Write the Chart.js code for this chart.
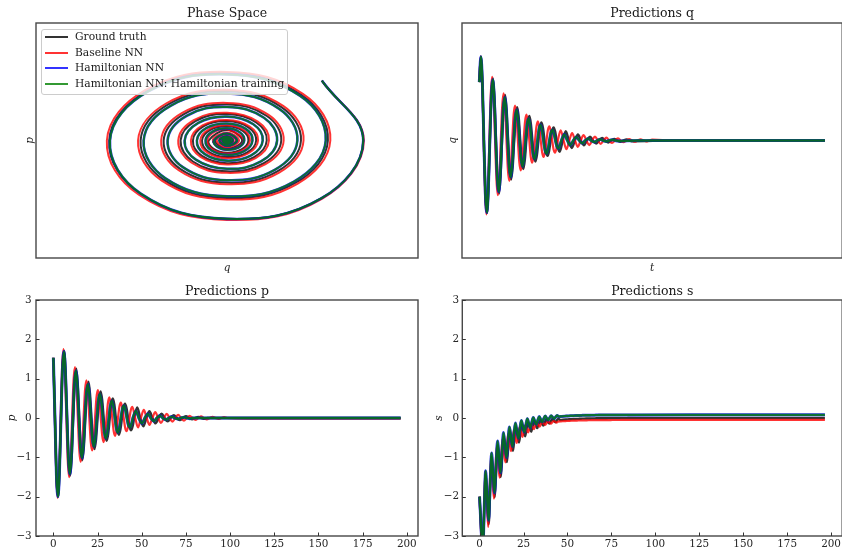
<!DOCTYPE html>
<html><head><meta charset="utf-8">
<script src="https://cdn.jsdelivr.net/npm/chart.js@4.4.1/dist/chart.umd.min.js"></script>
<style>
html,body{margin:0;padding:0;background:#fff;overflow:hidden;width:842px;height:547px;position:relative;}
canvas{position:absolute;}
#legend{position:absolute;left:41px;top:29px;width:247px;height:66px;box-sizing:border-box;border:1px solid #cccccc;border-radius:3px;background:rgba(255,255,255,0.8);font-family:'DejaVu Serif',serif;font-size:10.7px;color:#1a1a1a;}
.row{position:absolute;left:0;height:14px;line-height:14px;width:240px;}
.sw{position:absolute;left:3px;top:6px;width:23px;height:0;border-top:2px solid;}
.lbl{position:absolute;left:33px;top:0;white-space:nowrap;}
</style></head><body>
<canvas id="cPhase" width="421" height="280" style="left:0;top:0"></canvas>
<canvas id="cQ" width="422" height="280" style="left:421px;top:0"></canvas>
<canvas id="cP" width="421" height="267" style="left:0;top:280px"></canvas>
<canvas id="cS" width="422" height="267" style="left:421px;top:280px"></canvas>
<div id="legend"></div>
<script>
// ---------------- data ----------------
const seriesNames = ['Ground truth', 'Baseline NN', 'Hamiltonian NN', 'Hamiltonian NN: Hamiltonian training'];
const xTicksTime = [0, 25, 50, 75, 100, 125, 150, 175, 200];
const yTicks = [-3, -2, -1, 0, 1, 2, 3];

// Ground truth
const tBlack = [0,0.875,1.738,2.6,3.463,4.325,5.188,6.05,6.913,7.775,8.638,9.5,10.363,11.225,12.088,12.95,13.813,14.675,15.538,16.4,17.263,18.125,18.988,19.85,20.713,21.575,22.438,23.3,24.163,25.025,25.888,26.75,27.613,28.475,29.338,30.2,31.063,31.925,32.788,33.65,34.513,35.375,36.238,37.1,37.963,38.825,39.688,40.55,41.413,42.275,43.138,44.0,44.863,45.725,47.45,49.175,50.9,52.625,54.35,56.075,57.8,59.525,61.25,62.975,64.7,66.425,68.15,69.875,71.6,73.325,75.05,76.775,78.5,80.225,81.95,83.675,85.4,87.125,110,140,170,196.5];
const qBlack = [1.49,2.14,1.48,0,-1.36,-1.851,-1.259,0,1.165,1.585,1.078,0,-0.997,-1.357,-0.923,0,0.854,1.162,0.79,0,-0.731,-0.995,-0.676,0,0.626,0.852,0.579,0,-0.536,-0.729,-0.496,0,0.459,0.624,0.425,0,-0.393,-0.535,-0.364,0,0.336,0.458,0.311,0,-0.288,-0.392,-0.267,0,0.247,0.336,0.228,0,-0.211,-0.287,0,0.238,0,-0.19,0,0.152,0,-0.121,0,0.097,0,-0.078,0,0.062,0,-0.05,0,0.04,0,-0.032,0,0.025,0,-0.02,0,0,0,0];
const pBlack = [1.53,0,-1.48,-2.0,-1.36,0,1.259,1.712,1.165,0,-1.078,-1.466,-0.997,0,0.923,1.255,0.854,0,-0.79,-1.075,-0.731,0,0.676,0.92,0.626,0,-0.579,-0.788,-0.536,0,0.496,0.675,0.459,0,-0.425,-0.578,-0.393,0,0.364,0.495,0.336,0,-0.311,-0.424,-0.288,0,0.267,0.363,0.247,0,-0.228,-0.311,-0.211,0,0.266,0,-0.213,0,0.17,0,-0.136,0,0.108,0,-0.087,0,0.069,0,-0.055,0,0.044,0,-0.035,0,0.028,0,-0.023,0,0,0,0,0];
const sBlack = [-2.0,-2.88,-3.62,-2.459,-1.42,-2.102,-2.70,-1.795,-0.989,-1.535,-2.014,-1.313,-0.688,-1.122,-1.502,-0.96,-0.479,-0.822,-1.12,-0.703,-0.333,-0.601,-0.835,-0.515,-0.232,-0.441,-0.623,-0.378,-0.162,-0.324,-0.465,-0.278,-0.112,-0.237,-0.347,-0.204,-0.078,-0.175,-0.258,-0.15,-0.054,-0.129,-0.193,-0.111,-0.038,-0.094,-0.144,-0.081,-0.026,-0.07,-0.107,-0.06,-0.018,-0.051,-0.044,-0.038,-0.033,-0.028,-0.024,-0.021,-0.018,-0.015,-0.013,-0.011,-0.01,-0.008,-0.007,-0.006,-0.005,-0.004,-0.004,-0.003,-0.003,-0.002,-0.002,-0.002,-0.001,-0.001,0,0,0,0];

// Baseline NN
const tRed = [0,0.866,1.677,2.488,3.299,4.11,4.922,5.733,6.544,7.355,8.167,8.978,9.789,10.6,11.412,12.223,13.034,13.845,14.657,15.468,16.279,17.09,17.902,18.713,19.524,20.335,21.147,21.958,22.769,23.58,24.392,25.203,26.014,26.825,27.637,28.448,29.259,30.07,30.882,31.693,32.504,33.315,34.127,34.938,35.749,36.56,37.372,38.183,38.994,39.805,40.617,41.428,42.239,43.05,43.862,44.673,46.296,47.918,49.541,51.163,52.786,54.408,56.031,57.653,59.276,60.898,62.521,64.143,65.766,67.388,69.011,70.633,72.256,73.878,75.501,77.123,78.746,80.368,81.991,83.613,85.236,86.858,88.481,90.103,91.726,93.348,94.971,96.593,98.215,110,140,170,196.5];
const qRed = [1.49,2.15,1.49,0,-1.385,-1.887,-1.285,0,1.192,1.623,1.105,0,-1.025,-1.397,-0.951,0,0.882,1.202,0.819,0,-0.759,-1.034,-0.704,0,0.653,0.89,0.606,0,-0.562,-0.766,-0.522,0,0.484,0.659,0.449,0,-0.416,-0.567,-0.386,0,0.358,0.488,0.332,0,-0.308,-0.42,-0.286,0,0.265,0.361,0.246,0,-0.227,-0.308,-0.209,0,0.262,0,-0.223,0,0.189,0,-0.161,0,0.137,0,-0.116,0,0.099,0,-0.084,0,0.072,0,-0.061,0,0.052,0,-0.044,0,0.037,0,-0.032,0,0.027,0,-0.023,0,0.02,0,0,0,0];
const pRed = [1.53,0,-1.49,-2.03,-1.385,0,1.285,1.75,1.192,0,-1.105,-1.506,-1.025,0,0.951,1.296,0.882,0,-0.819,-1.115,-0.759,0,0.704,0.96,0.653,0,-0.606,-0.826,-0.562,0,0.522,0.71,0.484,0,-0.449,-0.611,-0.416,0,0.386,0.526,0.358,0,-0.332,-0.453,-0.308,0,0.286,0.389,0.265,0,-0.246,-0.334,-0.227,0,0.209,0.284,0,-0.242,0,0.205,0,-0.175,0,0.148,0,-0.126,0,0.107,0,-0.091,0,0.078,0,-0.066,0,0.056,0,-0.048,0,0.041,0,-0.034,0,0.029,0,-0.025,0,0.021,0,-0.015,-0.015,-0.015,-0.015];
const sRed = [-2.0,-2.877,-3.75,-2.468,-1.35,-2.117,-2.77,-1.818,-0.99,-1.562,-2.05,-1.343,-0.729,-1.156,-1.517,-0.995,-0.541,-0.858,-1.128,-0.742,-0.405,-0.642,-0.842,-0.556,-0.307,-0.482,-0.632,-0.42,-0.236,-0.367,-0.478,-0.321,-0.184,-0.282,-0.364,-0.248,-0.147,-0.22,-0.281,-0.195,-0.12,-0.174,-0.22,-0.156,-0.101,-0.14,-0.175,-0.128,-0.087,-0.116,-0.142,-0.106,-0.076,-0.098,-0.117,-0.091,-0.086,-0.08,-0.076,-0.072,-0.069,-0.066,-0.064,-0.062,-0.06,-0.058,-0.057,-0.056,-0.055,-0.054,-0.053,-0.053,-0.052,-0.052,-0.051,-0.051,-0.051,-0.05,-0.05,-0.05,-0.05,-0.05,-0.05,-0.05,-0.05,-0.05,-0.05,-0.05,-0.05,-0.05,-0.05,-0.05,-0.05];

// Hamiltonian NN: Hamiltonian training
const tGreen = [0,0.905,1.753,2.6,3.448,4.295,5.143,5.99,6.838,7.685,8.533,9.38,10.228,11.075,11.923,12.77,13.618,14.465,15.313,16.16,17.008,17.855,18.703,19.55,20.398,21.245,22.093,22.94,23.788,24.635,25.483,26.33,27.178,28.025,28.873,29.72,30.568,31.415,32.263,33.11,33.958,34.805,35.653,36.5,37.348,38.195,39.043,39.89,40.738,41.585,42.433,43.28,44.128,44.975,46.67,48.365,50.06,51.755,53.45,55.145,56.84,58.535,60.23,61.925,63.62,65.315,67.01,68.705,70.4,72.095,73.79,75.485,77.18,78.875,90,120,160,196.5];
const qGreen = [1.49,2.14,1.48,0,-1.355,-1.838,-1.245,0,1.144,1.551,1.051,0,-0.966,-1.309,-0.887,0,0.815,1.105,0.749,0,-0.688,-0.933,-0.632,0,0.581,0.787,0.534,0,-0.49,-0.665,-0.45,0,0.414,0.561,0.38,0,-0.349,-0.473,-0.321,0,0.295,0.4,0.271,0,-0.249,-0.337,-0.229,0,0.205,0.271,0.179,0,-0.156,-0.206,0,0.157,0,-0.12,0,0.092,0,-0.07,0,0.053,0,-0.041,0,0.031,0,-0.024,0,0.018,0,-0.014,0,0,0,0];
const pGreen = [1.53,0,-1.48,-2.0,-1.355,0,1.245,1.688,1.144,0,-1.051,-1.425,-0.966,0,0.887,1.203,0.815,0,-0.749,-1.015,-0.688,0,0.632,0.857,0.581,0,-0.534,-0.723,-0.49,0,0.45,0.61,0.414,0,-0.38,-0.515,-0.349,0,0.321,0.435,0.295,0,-0.271,-0.367,-0.249,0,0.229,0.31,0.205,0,-0.179,-0.236,-0.156,0,0.18,0,-0.137,0,0.105,0,-0.08,0,0.061,0,-0.046,0,0.035,0,-0.027,0,0.021,0,-0.016,0,0,0,0,0];
const sGreen = [-2.0,-2.82,-3.54,-2.383,-1.344,-2.011,-2.60,-1.697,-0.891,-1.431,-1.904,-1.205,-0.582,-1.013,-1.39,-0.85,-0.371,-0.712,-1.008,-0.594,-0.228,-0.494,-0.726,-0.409,-0.13,-0.337,-0.517,-0.276,-0.063,-0.223,-0.362,-0.179,-0.018,-0.14,-0.247,-0.109,0.014,-0.081,-0.162,-0.057,0.035,-0.038,-0.10,-0.02,0.049,-0.006,-0.053,0.006,0.059,0.017,-0.018,0.026,0.066,0.034,0.041,0.047,0.051,0.056,0.059,0.062,0.065,0.067,0.069,0.07,0.072,0.073,0.074,0.075,0.076,0.077,0.077,0.078,0.078,0.078,0.079,0.08,0.08,0.08];

// Hamiltonian NN (drawn underneath the green curve, indistinguishable from it)
const tBlue = tGreen, qBlue = qGreen, pBlue = pGreen, sBlue = sGreen;

// ---------------- styling / chart construction ----------------
const SERIF = "'DejaVu Serif', serif";
const styles = [
  {color: 'rgba(0,0,0,0.8)',   width: 2,   timeWidth: 2.4, order: 3},
  {color: 'rgba(255,0,0,0.8)', width: 2,   timeWidth: 2.2, order: 2},
  {color: 'rgba(0,0,255,0.8)', width: 2.6, timeWidth: 3.0, order: 1},
  {color: 'rgba(0,128,0,0.8)', width: 2,   timeWidth: 2.4, order: 0}
];
const dataT = [tBlack, tRed, tBlue, tGreen];
const dataQ = [qBlack, qRed, qBlue, qGreen];
const dataP = [pBlack, pRed, pBlue, pGreen];
const dataS = [sBlack, sRed, sBlue, sGreen];

const framePlugin = {
  id: 'frame',
  afterDatasetsDraw(chart, args, opts) {
    const {ctx, chartArea: a} = chart;
    ctx.save();
    ctx.strokeStyle = '#474747';
    ctx.lineWidth = 1.4;
    ctx.strokeRect(a.left, a.top, a.right - a.left, a.bottom - a.top);
    if (opts && opts.ticks) {
      ctx.lineWidth = 1;
      ctx.strokeStyle = '#333';
      const xs = chart.scales.x, ys = chart.scales.y;
      ctx.beginPath();
      xs.ticks.forEach(tk => { const px = Math.round(xs.getPixelForValue(tk.value)) + 0.5; ctx.moveTo(px, a.bottom); ctx.lineTo(px, a.bottom - 3.5); });
      ys.ticks.forEach(tk => { const py = Math.round(ys.getPixelForValue(tk.value)) + 0.5; ctx.moveTo(a.left, py); ctx.lineTo(a.left + 3.5, py); });
      ctx.stroke();
    }
    ctx.restore();
  }
};
Chart.register(framePlugin);

function minusFmt(v) { return v < 0 ? '\u2212' + Math.abs(v) : String(v); }

function makeOptions(c) {
  return {
    responsive: false, animation: false, events: [],
    layout: {padding: {top: 0, left: 0, bottom: 0, right: c.padRight}},
    plugins: {
      legend: {display: false}, tooltip: {enabled: false},
      title: {display: true, text: c.title, fullSize: false, color: '#1a1a1a',
              font: {family: SERIF, size: 12.5, weight: 'normal', lineHeight: 1.2},
              padding: {top: c.titleTop, bottom: c.titleBottom}},
      frame: {ticks: c.ticks}
    },
    scales: {
      x: {type: 'linear', min: c.xmin, max: c.xmax,
          grid: {display: false, drawTicks: false}, border: {display: false},
          ticks: {display: c.ticks, stepSize: 25, includeBounds: false, autoSkip: false, maxRotation: 0,
                  padding: 2, color: '#262626', font: {family: SERIF, size: 10.4}, callback: minusFmt},
          title: {display: !!c.xTitle, text: c.xTitle || '', color: '#1a1a1a',
                  font: {family: SERIF, size: 10.4, style: 'italic', lineHeight: 1.2}, padding: {top: 0, bottom: 5.8}},
          afterFit: s => { s.height = c.xHeight; }},
      y: {type: 'linear', min: -3, max: 3,
          grid: {display: false, drawTicks: false}, border: {display: false},
          ticks: {display: c.ticks, stepSize: 1, autoSkip: false, padding: c.yPad || 4, color: '#262626',
                  font: {family: SERIF, size: 10.4}, callback: minusFmt},
          title: {display: true, text: c.yTitle, color: '#1a1a1a',
                  font: {family: SERIF, size: 10.4, style: 'italic', lineHeight: 1.2}, padding: {top: c.yTitlePad, bottom: 0}},
          afterFit: s => { s.width = c.yWidth; }}
    }
  };
}

function timeDatasets(values) {
  return seriesNames.map((name, i) => ({
    label: name,
    data: dataT[i].map((t, j) => ({x: t, y: values[i][j]})),
    borderColor: styles[i].color, borderWidth: styles[i].timeWidth, order: styles[i].order,
    pointRadius: 0, fill: false, cubicInterpolationMode: 'monotone', clip: 0
  }));
}

// Phase space (p vs q)
new Chart(document.getElementById('cPhase'), {
  type: 'scatter',
  data: {datasets: seriesNames.map((name, i) => ({
    label: name,
    data: dataQ[i].map((q, j) => ({x: q, y: dataP[i][j]})),
    showLine: true, tension: 0.4,
    borderColor: styles[i].color, borderWidth: styles[i].width, order: styles[i].order,
    pointRadius: 0, fill: false, clip: 0
  }))},
  options: makeOptions({title: 'Phase Space', titleTop: 6.4, titleBottom: 1.6, padRight: 3,
    xmin: -3, xmax: 3, ticks: false, xTitle: 'q', xHeight: 22, yTitle: 'p', yTitlePad: 24.3, yWidth: 36})
});

const timeRange = {xmin: -9.83, xmax: 206.33};

new Chart(document.getElementById('cQ'), {
  type: 'line', data: {datasets: timeDatasets(dataQ)},
  options: makeOptions(Object.assign({title: 'Predictions q', titleTop: 6.4, titleBottom: 1.6, padRight: 0.8,
    ticks: false, xTitle: 't', xHeight: 22, yTitle: 'q', yTitlePad: 26.1, yWidth: 41}, timeRange))
});

new Chart(document.getElementById('cP'), {
  type: 'line', data: {datasets: timeDatasets(dataP)},
  options: makeOptions(Object.assign({title: 'Predictions p', titleTop: 4.1, titleBottom: 0.9, padRight: 3,
    ticks: true, xTitle: '', xHeight: 11, yTitle: 'p', yTitlePad: 6.5, yWidth: 36, yPad: 4.3}, timeRange))
});

new Chart(document.getElementById('cS'), {
  type: 'line', data: {datasets: timeDatasets(dataS)},
  options: makeOptions(Object.assign({title: 'Predictions s', titleTop: 4.1, titleBottom: 0.9, padRight: 0.8,
    ticks: true, xTitle: '', xHeight: 11, yTitle: 's', yTitlePad: 12.1, yWidth: 41.3, yPad: 3.2}, timeRange))
});

// Legend (inside the phase-space axes, semi-transparent like the original)
const legendTops = [0, 15.7, 31.3, 47];
const legend = document.getElementById('legend');
seriesNames.forEach((name, i) => {
  const row = document.createElement('div');
  row.className = 'row';
  row.style.top = legendTops[i] + 'px';
  const sw = document.createElement('span');
  sw.className = 'sw';
  sw.style.borderTopColor = styles[i].color;
  const lbl = document.createElement('span');
  lbl.className = 'lbl';
  lbl.textContent = name;
  row.appendChild(sw); row.appendChild(lbl);
  legend.appendChild(row);
});
</script>
</body></html>
